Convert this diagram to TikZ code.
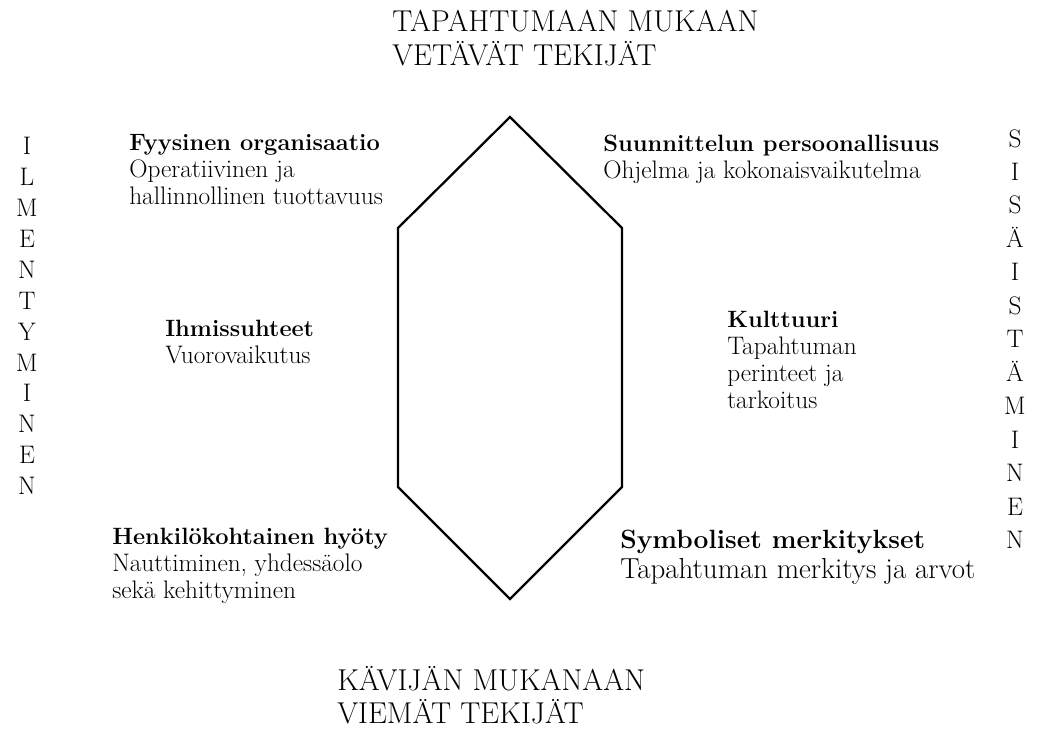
\documentclass[tikz,border=0pt]{standalone}
\usepackage{fontspec}
\begin{document}
\begin{tikzpicture}[x=0.75pt,y=-0.75pt,
  title/.style={anchor=west,align=left,inner sep=0pt,font=\fontsize{22.6}{25}\selectfont},
  body/.style={anchor=west,align=left,inner sep=0pt,font=\fontsize{19}{20.25}\selectfont},
  bigbody/.style={anchor=west,align=left,inner sep=0pt,font=\fontsize{21.7}{22.5}\selectfont},
  vlettersL/.style={align=center,inner sep=0pt,font=\fontsize{19}{23.2}\selectfont},
  vlettersR/.style={align=center,inner sep=0pt,font=\fontsize{19}{25.1}\selectfont},
  hexline/.style={line width=1.7pt,line join=miter}]
\newcommand{\hd}[1]{{\fontsize{17.7}{20.25}\selectfont\bfseries #1}}
\useasboundingbox (0,0) rectangle (1040,729);
% hexagon
\coordinate (t) at (510,117);
\coordinate (ul) at (398,228);
\coordinate (ll) at (398,487);
\coordinate (b) at (510,599);
\coordinate (lr) at (622,487);
\coordinate (ur) at (622,228);
\draw[hexline] (t) -- (ul) -- (ll) -- (b) -- (lr) -- (ur) -- cycle;
% titles
\node[title] (top) at (392,38) {TAPAHTUMAAN MUKAAN\\VETÄVÄT TEKIJÄT};
\node[title] (bot) at (337,695.5) {KÄVIJÄN MUKANAAN\\VIEMÄT TEKIJÄT};
% side letters
\node[vlettersL] (left) at (27,316) {I\\L\\M\\E\\N\\T\\Y\\M\\I\\N\\E\\N};
\node[vlettersR] (right) at (1015,339) {S\\I\\S\\Ä\\I\\S\\T\\Ä\\M\\I\\N\\E\\N};
% texts
\node[body] (fo) at (129,170) {\hd{Fyysinen organisaatio}\\Operatiivinen ja\\hallinnollinen tuottavuus};
\node[body] (sp) at (603,159) {\hd{Suunnittelun persoonallisuus}\\Ohjelma ja kokonaisvaikutelma};
\node[body] (ih) at (165,342) {\hd{Ihmissuhteet}\\Vuorovaikutus};
\node[body] (ku) at (727,359.5) {\hd{Kulttuuri}\\Tapahtuman\\perinteet ja\\tarkoitus};
\node[body] (hh) at (112,566) {\hd{Henkilökohtainen hyöty}\\Nauttiminen, yhdessäolo\\sekä kehittyminen};
\node[bigbody] (sm) at (620,557) {{\fontsize{19.8}{22.5}\selectfont\bfseries Symboliset merkitykset}\\Tapahtuman merkitys ja arvot};
\end{tikzpicture}
\end{document}
